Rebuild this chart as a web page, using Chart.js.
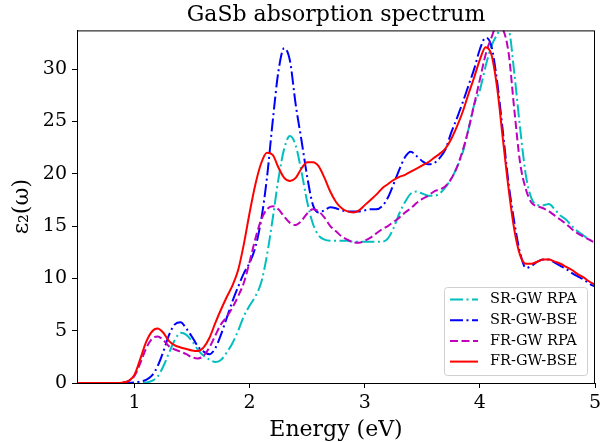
<!DOCTYPE html>
<html>
<head>
<meta charset="utf-8">
<script src="https://cdn.jsdelivr.net/npm/chart.js@4.4.0/dist/chart.umd.min.js"></script>
<style>
  html, body { margin: 0; padding: 0; background: #fff; }
</style>
</head>
<body>
<canvas id="absChart" width="600" height="442"></canvas>
<script>
// photon energy grid (eV)
const energy = [
  0.50, 0.55, 0.60, 0.65, 0.70, 0.75, 0.80, 0.85, 0.90, 0.95,
  1.00, 1.05, 1.10, 1.15, 1.20, 1.25, 1.30, 1.35, 1.40, 1.45,
  1.50, 1.55, 1.60, 1.65, 1.70, 1.75, 1.80, 1.85, 1.90, 1.95,
  2.00, 2.05, 2.10, 2.15, 2.20, 2.25, 2.30, 2.35, 2.40, 2.45,
  2.50, 2.55, 2.60, 2.65, 2.70, 2.75, 2.80, 2.85, 2.90, 2.95,
  3.00, 3.05, 3.10, 3.15, 3.20, 3.25, 3.30, 3.35, 3.40, 3.45,
  3.50, 3.55, 3.60, 3.65, 3.70, 3.75, 3.80, 3.85, 3.90, 3.95,
  4.00, 4.05, 4.10, 4.15, 4.20, 4.25, 4.30, 4.35, 4.40, 4.45,
  4.50, 4.55, 4.60, 4.65, 4.70, 4.75, 4.80, 4.85, 4.90, 4.95,
  5.00
];

const srRpa = [
  0, 0, 0, 0, 0, 0, 0, 0, 0, 0,
  0, 0, 0.05, 0.2, 0.6, 1.6, 2.9, 4.1, 4.8, 4.6,
  4.0, 3.2, 2.6, 2.25, 2.0, 2.2, 2.9, 3.8, 5.0, 6.4,
  7.4, 8.3, 9.6, 12.2, 15.7, 19.5, 22.4, 23.6, 22.7, 20.2,
  17.3, 15.2, 14.1, 13.7, 13.6, 13.6, 13.6, 13.6, 13.5, 13.5,
  13.5, 13.5, 13.5, 13.5, 13.8, 14.8, 16.2, 17.3, 18.1, 18.3,
  18.1, 17.9, 17.9, 18.1, 18.7, 19.5, 20.6, 22.0, 24.2, 26.6,
  28.0, 30.3, 32.2, 33.3, 34.2, 33.8, 29.5, 24.3, 19.8, 17.6,
  17.0, 17.0, 17.1, 16.6, 16.0, 15.6, 15.0, 14.5, 14.1, 13.7,
  13.4
];

const srBse = [
  0, 0, 0, 0, 0, 0, 0, 0, 0, 0,
  0.05, 0.15, 0.3, 0.7, 1.6, 3.0, 4.6, 5.6, 5.8, 5.2,
  4.4, 3.5, 3.0, 2.75, 3.3, 4.6, 6.2, 7.8, 9.2, 10.5,
  11.5, 13.0, 15.6, 19.6, 25.0, 29.8, 32.0, 30.8, 26.6, 23.2,
  19.7, 17.0, 16.3, 16.5, 16.8, 16.7, 16.5, 16.4, 16.4, 16.4,
  16.5, 16.6, 16.6, 16.9, 17.7, 19.0, 20.4, 21.6, 22.1, 21.7,
  21.2, 20.9, 21.0, 21.5, 22.3, 23.9, 25.3, 26.8, 28.4, 30.0,
  31.9, 33.0, 32.2, 28.8, 24.0, 19.0, 15.3, 12.4, 11.0, 11.2,
  11.6, 11.8, 11.8, 11.5, 11.2, 10.9, 10.5, 10.2, 9.9, 9.5,
  9.2
];

const frRpa = [
  0, 0, 0, 0, 0, 0, 0, 0, 0.05, 0.2,
  0.7, 1.9, 3.3, 4.2, 4.45, 4.1, 3.5, 3.2, 3.0, 2.75,
  2.45, 2.35, 2.6, 3.4, 4.5, 5.6, 6.3, 7.2, 8.3, 9.6,
  11.6, 13.8, 15.6, 16.6, 16.9, 16.6, 15.9, 15.3, 15.1, 15.5,
  16.2, 16.6, 16.4, 15.8, 15.0, 14.5, 14.0, 13.7, 13.45, 13.4,
  13.6, 13.9, 14.3, 14.7, 15.0, 15.4, 15.8, 16.3, 16.7, 17.2,
  17.6, 17.9, 18.3, 18.5, 18.8, 19.5, 20.6, 22.2, 24.2, 26.6,
  29.0, 31.4, 33.0, 34.2, 33.8, 31.5, 26.0, 21.0, 18.5, 17.2,
  16.9, 16.7, 16.4, 16.0, 15.6, 15.2, 14.7, 14.3, 14.0, 13.7,
  13.4
];

const frBse = [
  0, 0, 0, 0, 0, 0, 0, 0, 0.05, 0.2,
  0.8, 2.3, 3.9, 4.9, 5.2, 4.8, 4.0, 3.6, 3.4, 3.25,
  3.1, 3.05, 3.4, 4.3, 5.7, 7.0, 8.2, 9.3, 10.8, 13.3,
  16.3, 19.0, 21.0, 22.0, 21.8, 20.6, 19.6, 19.3, 19.6, 20.5,
  21.1, 21.1, 20.7, 19.6, 18.3, 17.3, 16.7, 16.4, 16.3, 16.5,
  17.0, 17.5, 18.0, 18.6, 19.0, 19.4, 19.7, 19.9, 20.2, 20.5,
  20.8, 21.1, 21.5, 21.9, 22.4, 23.3, 24.5, 25.9, 27.6, 29.2,
  30.9, 32.1, 31.4, 28.2, 23.3, 18.5, 14.6, 12.2, 11.4, 11.4,
  11.6, 11.8, 11.8, 11.6, 11.4, 11.1, 10.8, 10.4, 10.1, 9.7,
  9.4
];

const xTicks = [1, 2, 3, 4, 5];
const yTicks = [0, 5, 10, 15, 20, 25, 30];

const serif = 'DejaVu Serif';

function pts(ys) {
  return energy.map((e, i) => ({ x: e, y: ys[i] }));
}

// matplotlib-like box around the axes
const frame = {
  id: 'frame',
  afterDraw(chart) {
    const { ctx, chartArea: a } = chart;
    ctx.save();
    ctx.strokeStyle = '#000';
    ctx.lineWidth = 1;
    ctx.strokeRect(a.left + 0.5, a.top + 0.5, a.right - a.left - 1, a.bottom - a.top);
    ctx.restore();
  }
};

// legend drawn inside the plot, lower right
const boxLegend = {
  id: 'boxLegend',
  afterDraw(chart) {
    const { ctx, chartArea: a } = chart;
    const w = 143, h = 88;
    const x0 = a.right - 8 - w, y0 = a.bottom - 8 - h;
    ctx.save();
    ctx.fillStyle = 'rgba(255,255,255,0.8)';
    ctx.strokeStyle = '#d0d0d0';
    ctx.lineWidth = 1;
    ctx.beginPath();
    ctx.roundRect(x0 + 0.5, y0 + 0.5, w, h, 3);
    ctx.fill();
    ctx.stroke();
    ctx.font = '14.5px "' + serif + '"';
    ctx.textBaseline = 'middle';
    chart.data.datasets.forEach((ds, i) => {
      const cy = y0 + 12.5 + i * 20.7;
      ctx.strokeStyle = ds.borderColor;
      ctx.lineWidth = ds.borderWidth;
      ctx.setLineDash(ds.borderDash || []);
      ctx.beginPath();
      ctx.moveTo(x0 + 6, cy);
      ctx.lineTo(x0 + 34, cy);
      ctx.stroke();
      ctx.setLineDash([]);
      ctx.fillStyle = '#000';
      ctx.fillText(ds.label, x0 + 46, cy);
    });
    ctx.restore();
  }
};

new Chart(document.getElementById('absChart'), {
  type: 'line',
  data: {
    datasets: [
      {
        label: 'SR-GW RPA',
        data: pts(srRpa),
        borderColor: '#00bfbf',
        borderWidth: 2,
        borderDash: [13, 3.5, 2, 3.5],
        order: 3
      },
      {
        label: 'SR-GW-BSE',
        data: pts(srBse),
        borderColor: '#0000ff',
        borderWidth: 2,
        borderDash: [13, 3.5, 2, 3.5],
        order: 2
      },
      {
        label: 'FR-GW RPA',
        data: pts(frRpa),
        borderColor: '#bf00bf',
        borderWidth: 2,
        borderDash: [8, 3.5],
        order: 1
      },
      {
        label: 'FR-GW-BSE',
        data: pts(frBse),
        borderColor: '#ff0000',
        borderWidth: 2,
        order: 0
      }
    ]
  },
  options: {
    responsive: false,
    animation: false,
    layout: {
      autoPadding: false,
      padding: { top: 0, right: 5, bottom: 0, left: 0 }
    },
    elements: {
      point: { radius: 0 },
      line: { cubicInterpolationMode: 'monotone', fill: false }
    },
    plugins: {
      legend: { display: false },
      tooltip: { enabled: false },
      title: {
        display: true,
        text: 'GaSb absorption spectrum',
        fullSize: false,
        color: '#000',
        font: { family: serif, size: 22, weight: 'normal', lineHeight: 1.2 },
        padding: { top: 2, bottom: 2 }
      }
    },
    scales: {
      x: {
        type: 'linear',
        min: 0.5,
        max: 5,
        afterBuildTicks: (axis) => { axis.ticks = xTicks.map(v => ({ value: v })); },
        afterFit: (axis) => {
          axis.height = 59;
          axis.paddingLeft = 0;
          axis.paddingRight = 0;
        },
        grid: { drawOnChartArea: false, drawTicks: true, tickLength: 5, color: '#000' },
        border: { color: '#000' },
        ticks: {
          color: '#000',
          padding: 4,
          maxRotation: 0,
          font: { family: serif, size: 19 }
        },
        title: {
          display: true,
          text: 'Energy (eV)',
          color: '#000',
          font: { family: serif, size: 22, lineHeight: 1 },
          padding: { top: 0, bottom: 1 }
        }
      },
      y: {
        min: 0,
        max: 33.7,
        afterBuildTicks: (axis) => { axis.ticks = yTicks.map(v => ({ value: v })); },
        afterFit: (axis) => {
          axis.width = 77;
          axis.paddingTop = 0;
          axis.paddingBottom = 0;
        },
        grid: { drawOnChartArea: false, drawTicks: true, tickLength: 5, color: '#000' },
        border: { color: '#000' },
        ticks: {
          color: '#000',
          padding: 5,
          font: { family: serif, size: 19 }
        },
        title: {
          display: true,
          text: 'ε₂(ω)',
          color: '#000',
          font: { family: serif, size: 22, lineHeight: 1 },
          padding: { top: 11, bottom: 0 }
        }
      }
    }
  },
  plugins: [frame, boxLegend]
});
</script>
</body>
</html>
